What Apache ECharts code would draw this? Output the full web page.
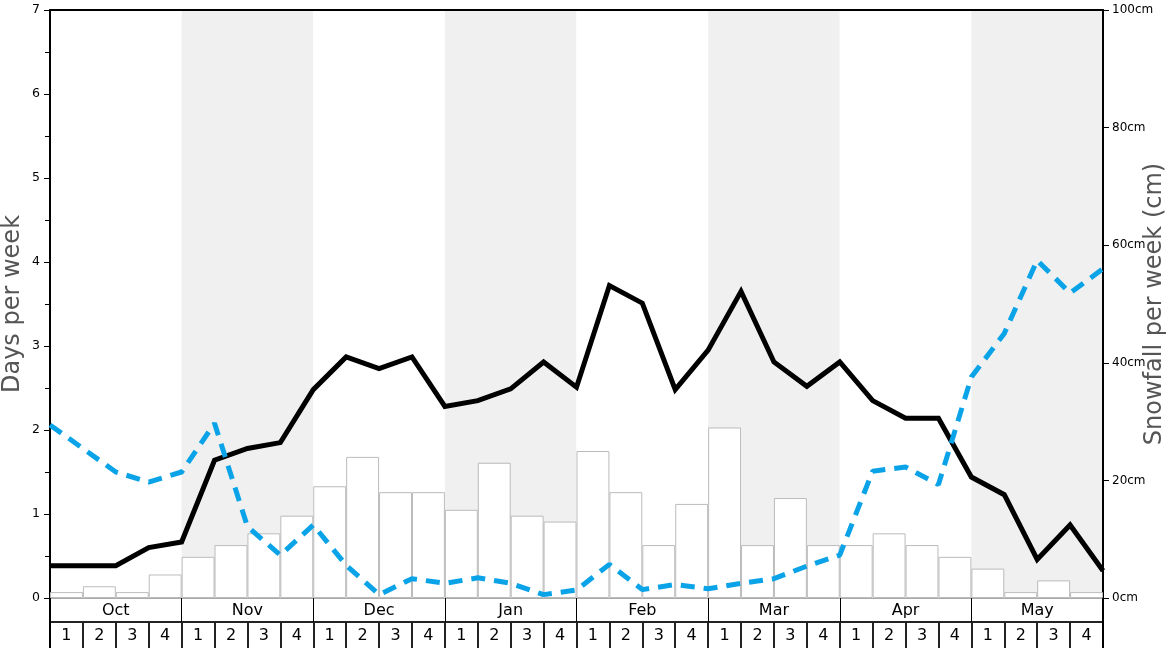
<!DOCTYPE html>
<html>
<head>
<meta charset="utf-8">
<script src="https://cdn.jsdelivr.net/npm/echarts@6/dist/echarts.min.js"></script>
<style>
html,body{margin:0;padding:0;background:#fff;}
#chart{width:1168px;height:648px;}
</style>
</head>
<body>
<div id="chart"></div>
<script>
const months = ['Oct','Nov','Dec','Jan','Feb','Mar','Apr','May'];
const weekLabels = ['1','2','3','4','1','2','3','4','1','2','3','4','1','2','3','4',
                    '1','2','3','4','1','2','3','4','1','2','3','4','1','2','3','4'];
// snowfall per week (cm), one per week
const snowfall = [1,2,1,4, 7,9,11,14, 19,24,18,18, 15,23,14,13, 25,18,9,16, 29,9,17,9, 9,11,9,7, 5,1,3,1];
// days per week, at week boundaries (33 points)
const blackDays = [0.385,0.385,0.385,0.60,0.667,1.64,1.78,1.85,2.48,2.87,2.73,2.87,2.28,2.35,2.49,2.81,2.51,
                   3.72,3.51,2.48,2.95,3.65,2.81,2.52,2.81,2.35,2.14,2.14,1.44,1.23,0.46,0.87,0.325];
const blueDays = [2.06,1.78,1.50,1.38,1.50,2.08,0.85,0.51,0.87,0.39,0.04,0.23,0.175,0.24,0.175,0.04,0.095,
                  0.40,0.10,0.16,0.11,0.175,0.23,0.38,0.51,1.51,1.56,1.35,2.63,3.15,4.02,3.63,3.92];
const leftTicks = {min:0, max:7, interval:1};
const rightTicks = {min:0, max:100, interval:20};

const FONT = 'DejaVu Sans';
const chart = echarts.init(document.getElementById('chart'), null, {renderer:'canvas'});
const toPts = arr => arr.map((v,i)=>[i,v]);

chart.setOption({
  animation:false,
  backgroundColor:'#fff',
  textStyle:{fontFamily:FONT},
  grid:{left:50, right:65, top:10, bottom:50, containLabel:false, outerBoundsMode:'none'},
  xAxis:[
    { // weeks (bars)
      type:'category', data:weekLabels, position:'bottom', offset:24, boundaryGap:true,
      axisLine:{show:true, onZero:false, lineStyle:{color:'#222', width:2}},
      axisTick:{show:true, length:26, interval:0, lineStyle:{color:'#222', width:2}},
      axisLabel:{show:true, interval:0, fontSize:16, color:'#000', margin:6, fontFamily:FONT},
      splitLine:{show:false}
    },
    { // months
      type:'category', data:months, position:'bottom', offset:0, boundaryGap:true,
      axisLine:{show:true, onZero:false, lineStyle:{color:'#aaa', width:1}},
      axisTick:{show:true, length:24, interval:0, lineStyle:{color:'#000', width:1}},
      axisLabel:{show:true, interval:0, fontSize:16, color:'#000', margin:5, fontFamily:FONT},
      splitLine:{show:false},
      splitArea:{show:true, interval:0, areaStyle:{color:['#ffffff','#f0f0f0']}}
    },
    { // continuous x for lines, draws top border
      type:'value', min:0, max:32, position:'top',
      axisLine:{show:true, onZero:false, lineStyle:{color:'#000', width:2}},
      axisTick:{show:false}, axisLabel:{show:false}, splitLine:{show:false}
    },
    { // outer frame of label rows
      type:'value', min:0, max:1, interval:1, position:'bottom', offset:0,
      axisLine:{show:false, onZero:false},
      axisTick:{show:true, length:50, lineStyle:{color:'#000', width:2}},
      axisLabel:{show:false}, splitLine:{show:false}
    }
  ],
  yAxis:[
    {
      type:'value', min:leftTicks.min, max:leftTicks.max, interval:leftTicks.interval, position:'left',
      name:'Days per week', nameLocation:'middle', nameGap:25, nameRotate:90, nameMoveOverlap:false,
      nameTextStyle:{fontSize:24, color:'#555', fontFamily:FONT},
      axisLine:{show:true, onZero:false, lineStyle:{color:'#000', width:2}},
      axisTick:{show:true, length:6, lineStyle:{color:'#000', width:1}},
      minorTick:{show:true, splitNumber:2, length:5, lineStyle:{color:'#000', width:1}},
      axisLabel:{fontSize:12.5, color:'#000', margin:10, fontFamily:FONT},
      splitLine:{show:false}, minorSplitLine:{show:false}
    },
    {
      type:'value', min:rightTicks.min, max:rightTicks.max, interval:rightTicks.interval, position:'right',
      name:'Snowfall per week (cm)', nameLocation:'middle', nameGap:40, nameRotate:90, nameMoveOverlap:false,
      nameTextStyle:{fontSize:24, color:'#555', fontFamily:FONT},
      axisLine:{show:true, onZero:false, lineStyle:{color:'#000', width:2}},
      axisTick:{show:true, length:6, lineStyle:{color:'#000', width:1}},
      axisLabel:{fontSize:12, color:'#000', margin:9, formatter:'{value}cm', fontFamily:FONT},
      splitLine:{show:false}
    }
  ],
  series:[
    {
      type:'bar', xAxisIndex:0, yAxisIndex:1, data:snowfall,
      barCategoryGap:'0%', barGap:'0%',
      itemStyle:{color:'#ffffff', borderColor:'#bbbbbb', borderWidth:1},
      z:2, silent:true
    },
    {
      type:'line', xAxisIndex:2, yAxisIndex:0, data:toPts(blackDays),
      showSymbol:false, symbol:'none',
      lineStyle:{color:'#000', width:5, join:'miter'},
      z:3, silent:true
    },
    {
      type:'line', xAxisIndex:2, yAxisIndex:0, data:toPts(blueDays),
      showSymbol:false, symbol:'none',
      lineStyle:{color:'#0aa3e8', width:5, type:[14,9]},
      z:4, silent:true
    }
  ]
});
</script>
</body>
</html>
